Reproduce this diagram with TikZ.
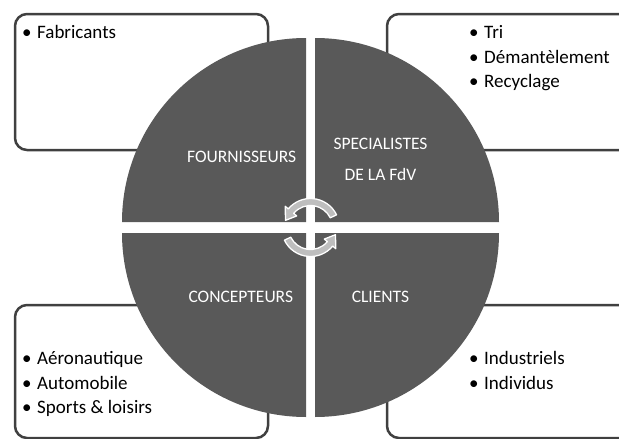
\documentclass[tikz,border=0pt]{standalone}
\usepackage{fontspec}
\setmainfont{Carlito}
\newcommand{\bul}{\makebox[12pt][l]{\hspace{-3pt}•}}
\begin{document}
\begin{tikzpicture}[x=1pt,y=-1pt,
  box/.style={draw={rgb,255:red,64;green,64;blue,64}, line width=2.5pt, fill=white, rounded corners=12pt},
  quad/.style={fill={rgb,255:red,89;green,89;blue,89}},
  lab/.style={text=white, font=\fontsize{17.5}{20}\selectfont, anchor=base, inner sep=0pt},
  item/.style={text=black, font=\fontsize{19}{24}\selectfont, anchor=base west, inner sep=0pt},
  cyc/.style={fill={rgb,255:red,190;green,190;blue,190}, draw=white, line width=1.3pt, line join=round}
]
\useasboundingbox (0,0) rectangle (619,439);
\clip (0,0) rectangle (619,439);
% boxes
\draw[box] (15,14) rectangle (268,150);
\draw[box] (387,14) rectangle (660,150);
\draw[box] (15,305) rectangle (268,438);
\draw[box] (387,305) rectangle (660,438);
% quadrants
\fill[quad] (306,222) -- (122,222) arc[start angle=180,end angle=270,radius=184] -- cycle;
\fill[quad] (315,222) -- (315,38) arc[start angle=270,end angle=360,radius=184] -- cycle;
\fill[quad] (306,233) -- (306,417) arc[start angle=90,end angle=180,radius=184] -- cycle;
\fill[quad] (315,233) -- (499,233) arc[start angle=0,end angle=90,radius=184] -- cycle;
% cycle arrows
\begin{scope}[shift={(310.5,227.5)}]
\draw[cyc] (-26:29) arc[start angle=-26,end angle=-140,radius=29] -- (-140:33) -- (-164:26) -- (-140:18) -- (-140:22) arc[start angle=-140,end angle=-26,radius=22] -- cycle;
\begin{scope}[rotate=180]
\draw[cyc] (-26:29) arc[start angle=-26,end angle=-140,radius=29] -- (-140:33) -- (-164:26) -- (-140:18) -- (-140:22) arc[start angle=-140,end angle=-26,radius=22] -- cycle;
\end{scope}
\end{scope}
% labels
\node[lab] (four) at (241.7,162.3) {FOURNISSEURS};
\node[lab] (spec1) at (380.5,149.3) {SPECIALISTES};
\node[lab] (spec2) at (380.5,180) {DE LA FdV};
\node[lab] (conc) at (240.8,302.7) {CONCEPTEURS};
\node[lab] (cli) at (380.5,302.7) {CLIENTS};
% items
\node[item] (fab) at (25,38.3) {\bul Fabricants};
\node[item] (tri) at (472,38) {\bul Tri};
\node[item] (dem) at (472,63) {\bul Démantèlement};
\node[item] (rec) at (472,87.5) {\bul Recyclage};
\node[item] (aer) at (25,364) {\bul Aéronautique};
\node[item] (aut) at (25,389) {\bul Automobile};
\node[item] (spo) at (25,413.5) {\bul Sports \& loisirs};
\node[item] (ind) at (472,364) {\bul Industriels};
\node[item] (indv) at (472,389) {\bul Individus};
\end{tikzpicture}
\end{document}
